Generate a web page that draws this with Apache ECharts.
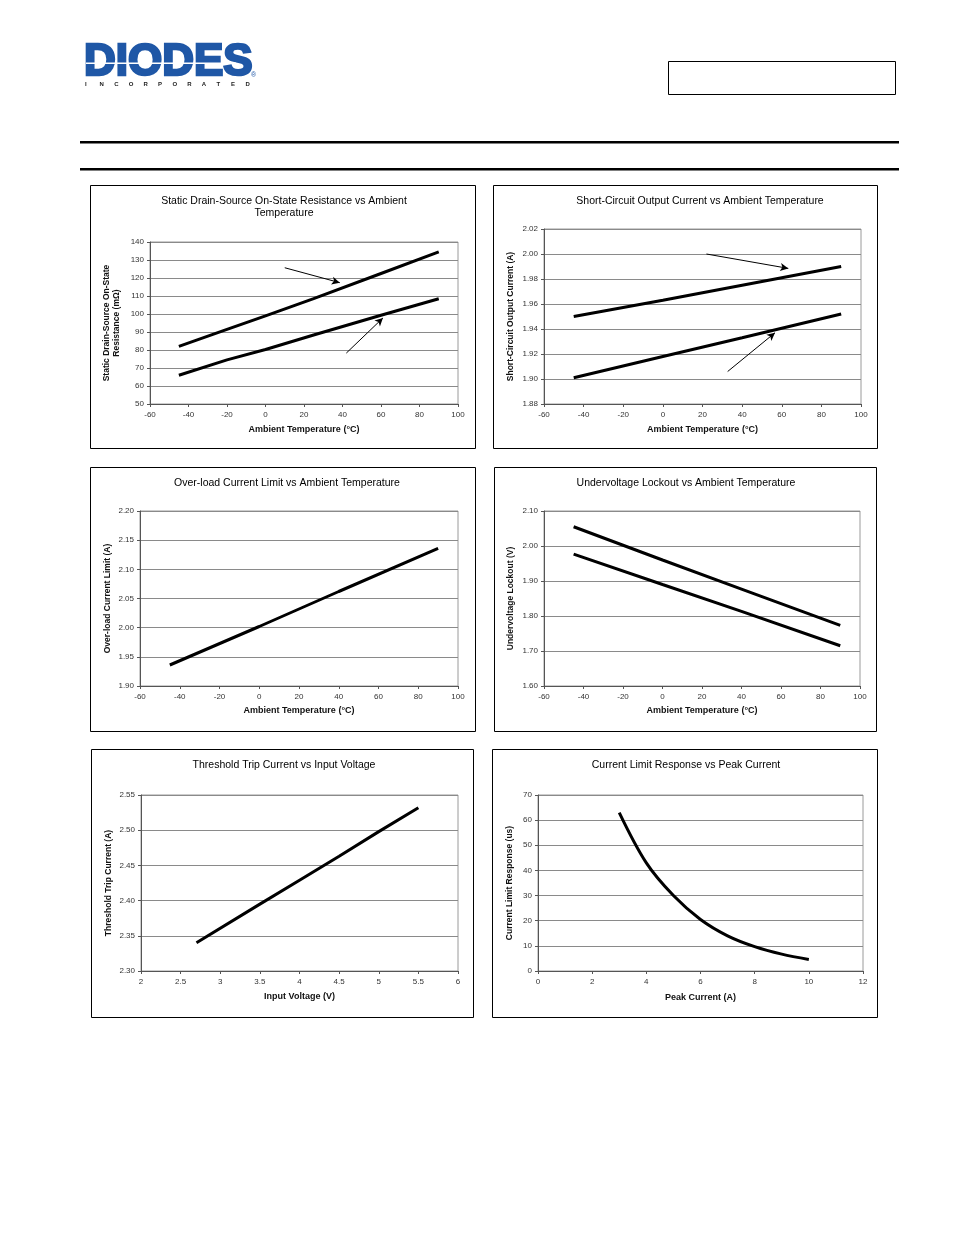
<!DOCTYPE html>
<html><head><meta charset="utf-8">
<script src="https://cdn.jsdelivr.net/npm/echarts@6/dist/echarts.min.js"></script>
<style>html,body{margin:0;padding:0;background:#fff}#c{width:954px;height:1235px}</style>
</head><body><div id="c"></div>
<script>
// ---------- data ----------
const tempTicks = [-60, -40, -20, 0, 20, 40, 60, 80, 100];

const rdsTicks = [50, 60, 70, 80, 90, 100, 110, 120, 130, 140];
const rdsTemp = [-45, -20, 0, 25, 60, 90];
const rdsUpper = [82, 91.5, 99, 108.5, 122.5, 134.5];
const rdsLower = [66, 74.5, 80.3, 88.3, 99.3, 108.5];
const rdsArrow1 = [[10, 125.7], [38.6, 117.4]];
const rdsArrow2 = [[42, 78.3], [61, 97.8]];

const scTicks = [1.88, 1.90, 1.92, 1.94, 1.96, 1.98, 2.00, 2.02];
const scTemp = [-45, 0, 40, 90];
const scUpper = [1.950, 1.963, 1.975, 1.990];
const scLower = [1.901, 1.918, 1.933, 1.952];
const scArrow1 = [[22, 2.000], [63.3, 1.9885]];
const scArrow2 = [[32.7, 1.906], [56.6, 1.937]];

const olTicks = [1.90, 1.95, 2.00, 2.05, 2.10, 2.15, 2.20];
const olTemp = [-45, 0, 40, 90];
const olLimit = [1.936, 2.002, 2.062, 2.136];

const uvTicks = [1.60, 1.70, 1.80, 1.90, 2.00, 2.10];
const uvTemp = [-45, 0, 40, 90];
const uvUpper = [2.055, 1.960, 1.877, 1.773];
const uvLower = [1.977, 1.890, 1.813, 1.715];

const vinTicks = [2, 2.5, 3, 3.5, 4, 4.5, 5, 5.5, 6];
const tripTicks = [2.30, 2.35, 2.40, 2.45, 2.50, 2.55];
const tripV = [2.7, 3.5, 4, 4.5, 5, 5.5];
const tripI = [2.340, 2.395, 2.429, 2.463, 2.498, 2.532];

const peakTicks = [0, 2, 4, 6, 8, 10, 12];
const respTicks = [0, 10, 20, 30, 40, 50, 60, 70];
const peakI = [3, 4, 5, 6, 7, 8, 9, 10];
const respUs = [63, 43, 30, 20.5, 14, 9.7, 6.7, 4.6];

// ---------- helpers ----------
const FONT = '"Liberation Sans", Arial, sans-serif';
const zip = (a, b) => a.map((v, i) => [v, b[i]]);
const grids = [
  {left: 150, top: 242, width: 308, height: 162},
  {left: 544, top: 229, width: 317, height: 175},
  {left: 140, top: 511, width: 318, height: 175},
  {left: 544, top: 511, width: 316, height: 175},
  {left: 141, top: 795, width: 317, height: 176},
  {left: 538, top: 795, width: 325, height: 176}
].map(g => Object.assign({show: true, borderColor: '#9a9a9a', borderWidth: 1, containLabel: false}, g));

function xAx(i, ticks, name, gap) {
  return {
    type: 'value', gridIndex: i, min: ticks[0], max: ticks[ticks.length - 1],
    interval: ticks[1] - ticks[0],
    name: name, nameLocation: 'middle', nameGap: gap,
    nameTextStyle: {fontFamily: FONT, fontSize: 9, fontWeight: 'bold', color: '#111'},
    axisLine: {show: true, onZero: false, lineStyle: {color: '#555', width: 1}},
    axisTick: {show: true, length: 3, lineStyle: {color: '#555'}},
    axisLabel: {fontFamily: FONT, fontSize: 8, color: '#333', margin: 7},
    splitLine: {show: false}
  };
}
function yAx(i, ticks, name, gap, dec) {
  return {
    type: 'value', gridIndex: i, min: ticks[0], max: ticks[ticks.length - 1],
    interval: Math.round((ticks[1] - ticks[0]) * 1000) / 1000,
    name: name, nameLocation: 'middle', nameGap: gap, nameRotate: 90,
    nameTextStyle: {fontFamily: FONT, fontSize: 8.5, fontWeight: 'bold', color: '#111', lineHeight: 10},
    axisLine: {show: true, onZero: false, lineStyle: {color: '#555', width: 1}},
    axisTick: {show: true, length: 3, lineStyle: {color: '#555'}},
    axisLabel: {fontFamily: FONT, fontSize: 8, color: '#333', margin: 6,
      formatter: v => dec ? v.toFixed(dec) : String(Math.round(v))},
    splitLine: {show: true, lineStyle: {color: '#8a8a8a', width: 1}}
  };
}
function line(i, xs, ys, smooth, arrows) {
  const s = {
    type: 'line', xAxisIndex: i, yAxisIndex: i, data: zip(xs, ys),
    symbol: 'none', smooth: smooth ? 0.35 : false,
    lineStyle: {color: '#000', width: 3}, silent: true
  };
  if (arrows) {
    s.markLine = {
      silent: true, symbol: ['none', 'arrow'], symbolSize: [6, 8],
      lineStyle: {color: '#000', width: 1, type: 'solid'}, label: {show: false},
      data: arrows.map(a => [{coord: a[0]}, {coord: a[1]}])
    };
  }
  return s;
}
function title(x, y, text) {
  return {type: 'text', x: x, y: y, style: {text: text, textAlign: 'center', textVerticalAlign: 'top',
    font: 'normal 10.5px ' + FONT, fill: '#000', lineHeight: 12}};
}
function box(x, y, w, h) {
  return {type: 'rect', shape: {x: x, y: y, width: w, height: h},
    style: {fill: 'none', stroke: '#000', lineWidth: 1}};
}

const letters = 'INCORPORATED'.split('');
const graphics = [
  {type: 'text', x: 84, y: 41, style: {text: 'DIODES', font: 'bold 44px ' + FONT, fill: '#1f57a6',
    stroke: '#1f57a6', lineWidth: 2.5}},
  {type: 'rect', shape: {x: 86, y: 62.5, width: 150, height: 1.5}, style: {fill: '#fff'}},
  {type: 'text', x: 251, y: 72, style: {text: '®', font: 'normal 7px ' + FONT, fill: '#1f57a6'}},
  ...letters.map((ch, k) => ({type: 'text', x: 85 + k * 14.6, y: 81,
    style: {text: ch, font: 'bold 6px ' + FONT, fill: '#222'}})),
  box(668.5, 61.5, 227, 33),
  {type: 'rect', shape: {x: 80, y: 141, width: 819, height: 2.5}, style: {fill: '#000'}},
  {type: 'rect', shape: {x: 80, y: 168, width: 819, height: 2.5}, style: {fill: '#000'}},
  box(90.5, 185.5, 385, 263), box(493.5, 185.5, 384, 263),
  box(90.5, 467.5, 385, 264), box(494.5, 467.5, 382, 264),
  box(91.5, 749.5, 382, 268), box(492.5, 749.5, 385, 268),
  title(284, 195, 'Static Drain-Source On-State Resistance vs Ambient\nTemperature'),
  title(700, 195, 'Short-Circuit Output Current vs Ambient Temperature'),
  title(287, 477, 'Over-load Current Limit vs Ambient Temperature'),
  title(686, 477, 'Undervoltage Lockout vs Ambient Temperature'),
  title(284, 759, 'Threshold Trip Current vs Input Voltage'),
  title(686, 759, 'Current Limit Response vs Peak Current')
];

const option = {
  animation: false,
  backgroundColor: '#fff',
  grid: grids,
  xAxis: [
    xAx(0, tempTicks, 'Ambient Temperature (°C)', 21),
    xAx(1, tempTicks, 'Ambient Temperature (°C)', 21),
    xAx(2, tempTicks, 'Ambient Temperature (°C)', 20),
    xAx(3, tempTicks, 'Ambient Temperature (°C)', 20),
    xAx(4, vinTicks, 'Input Voltage (V)', 21),
    xAx(5, peakTicks, 'Peak Current (A)', 22)
  ],
  yAxis: [
    yAx(0, rdsTicks, 'Static Drain-Source On-State\nResistance (mΩ)', 28, 0),
    yAx(1, scTicks, 'Short-Circuit Output Current (A)', 28, 2),
    yAx(2, olTicks, 'Over-load Current Limit (A)', 27, 2),
    yAx(3, uvTicks, 'Undervoltage Lockout (V)', 28, 2),
    yAx(4, tripTicks, 'Threshold Trip Current (A)', 27, 2),
    yAx(5, respTicks, 'Current Limit Response (us)', 23, 0)
  ],
  series: [
    line(0, rdsTemp, rdsUpper, false, [rdsArrow1, rdsArrow2]),
    line(0, rdsTemp, rdsLower),
    line(1, scTemp, scUpper, false, [scArrow1, scArrow2]),
    line(1, scTemp, scLower),
    line(2, olTemp, olLimit),
    line(3, uvTemp, uvUpper),
    line(3, uvTemp, uvLower),
    line(4, tripV, tripI),
    line(5, peakI, respUs, true)
  ],
  graphic: graphics
};
const chart = echarts.init(document.getElementById('c'), null, {renderer: 'canvas'});
chart.setOption(option);
</script></body></html>
